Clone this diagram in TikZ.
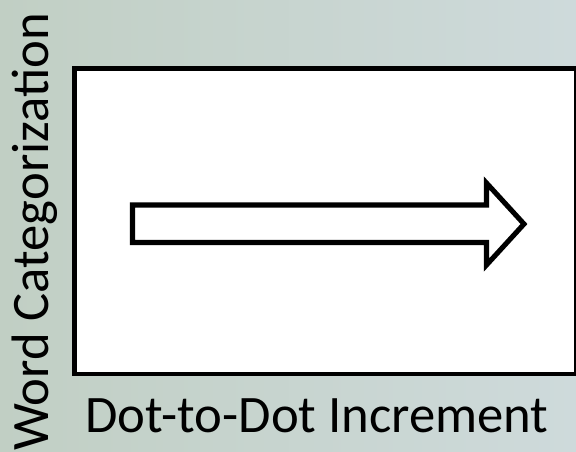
\documentclass[tikz,border=0pt]{standalone}
\usepackage{fontspec}
\setmainfont{Carlito}
\usetikzlibrary{positioning}

\definecolor{bgleft}{RGB}{193,207,196}
\definecolor{bgright}{RGB}{206,218,219}

\tikzset{
  axislabel/.style={font=\fontsize{39.5}{46}\selectfont, inner sep=0pt},
}

\begin{document}
\begin{tikzpicture}[x=0.75pt,y=0.75pt,yscale=-1,xscale=1]
    \useasboundingbox (0,0) rectangle (576,451);

    %Shape: Background
    \shade [left color=bgleft, right color=bgright] (0,0) rectangle (576,451);
    %Shape: Frame
    \draw [line width=3.4pt, fill=white] (74.5,68.5) rectangle (576,374);
    %Shape: Block arrow
    \draw [line width=3.8pt, miter limit=10, fill=white] (132.5,205) -- (486.5,205) -- (486.5,183) -- (524,224) -- (486.5,265) -- (486.5,242.5) -- (132.5,242.5) -- cycle ;

    % Text Node
    \node (xlabel) [axislabel, anchor=base] at (317,432) {Dot-to-Dot Increment};
    % Text Node
    \node (ylabel) [axislabel, anchor=base, rotate=90] at (48,232) {Word Categorization};
\end{tikzpicture}
\end{document}
